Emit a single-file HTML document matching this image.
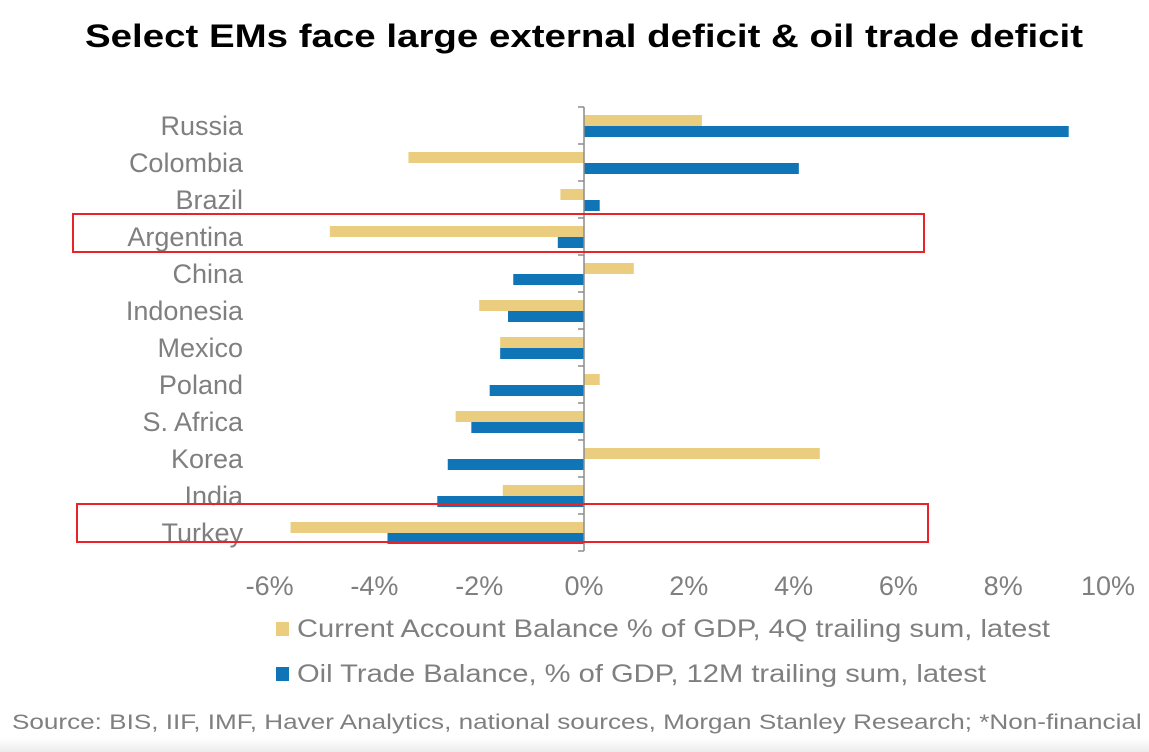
<!DOCTYPE html>
<html><head><meta charset="utf-8"><style>
html,body{margin:0;padding:0;background:#fff}
svg{display:block;font-family:"Liberation Sans",Arial,sans-serif}
</style></head><body>
<svg id="chart" width="1149" height="752" viewBox="0 0 1149 752">
<defs><linearGradient id="fade" x1="0" y1="0" x2="0" y2="1"><stop offset="0" stop-color="#fff"/><stop offset="1" stop-color="#ececec"/></linearGradient></defs>
<rect x="0" y="738" width="1149" height="14" fill="url(#fade)"/>
<text x="584" y="47" text-anchor="middle" font-size="32" font-weight="bold" fill="#000" textLength="998" lengthAdjust="spacingAndGlyphs">Select EMs face large external deficit &amp; oil trade deficit</text>
<g id="bars"></g>
<g id="axis"></g>
<rect x="73" y="214" width="851" height="38" fill="none" stroke="#e8242a" stroke-width="2"/>
<rect x="77" y="504" width="851" height="38" fill="none" stroke="#e8242a" stroke-width="2"/>
<g>
<rect x="276" y="622" width="13" height="14" fill="#ebcd7f"/>
<text x="297" y="637" font-size="25" fill="#7f7f7f" textLength="753" lengthAdjust="spacingAndGlyphs">Current Account Balance % of GDP, 4Q trailing sum, latest</text>
<rect x="276" y="667" width="13" height="14" fill="#0f75b6"/>
<text x="297" y="682" font-size="25" fill="#7f7f7f" textLength="689" lengthAdjust="spacingAndGlyphs">Oil Trade Balance, % of GDP, 12M trailing sum, latest</text>
</g>
<text x="12" y="729" font-size="21" fill="#7f7f7f" textLength="1150" lengthAdjust="spacingAndGlyphs">Source: BIS, IIF, IMF, Haver Analytics, national sources, Morgan Stanley Research; *Non-financial c</text>
</svg>
<script>
const categories = ["Russia","Colombia","Brazil","Argentina","China","Indonesia","Mexico","Poland","S. Africa","Korea","India","Turkey"];
const currentAccount = [2.25,-3.35,-0.45,-4.85,0.95,-2.0,-1.6,0.3,-2.45,4.5,-1.55,-5.6];
const oilTrade = [9.25,4.1,0.3,-0.5,-1.35,-1.45,-1.6,-1.8,-2.15,-2.6,-2.8,-3.75];
const tickValues = [-6,-4,-2,0,2,4,6,8,10];
const tickLabels = ["-6%","-4%","-2%","0%","2%","4%","6%","8%","10%"];

const NS = "http://www.w3.org/2000/svg";
const x0 = 584, pxPer = 52.4, yTop = 107, yBot = 551;
const band = (yBot - yTop) / categories.length;
const xs = v => x0 + v * pxPer;
const ys = i => yTop + i * band;
function mk(tag, attrs, parent) { const e = document.createElementNS(NS, tag); for (const k in attrs) e.setAttribute(k, attrs[k]); parent.appendChild(e); return e; }
const bars = document.getElementById('bars'), axis = document.getElementById('axis');

categories.forEach((c, i) => {
  const y = ys(i);
  const a = currentAccount[i], b = oilTrade[i];
  const r1 = mk('rect', {x: Math.min(xs(0), xs(a)), y: y + 8, width: Math.abs(xs(a) - xs(0)), height: 11, fill: '#ebcd7f'}, bars);
  
  
  const r2 = mk('rect', {x: Math.min(xs(0), xs(b)), y: y + 19, width: Math.abs(xs(b) - xs(0)), height: 11, fill: '#0f75b6'}, bars);
  
  
  const t = mk('text', {x: 243, y: y + 28, 'text-anchor': 'end', 'font-size': 27, fill: '#7f7f7f'}, axis);
  t.textContent = c;
  
  
});
for (let i = 0; i <= categories.length; i++) {
  const tk = mk('line', {x1: xs(0) - 6, x2: xs(0), y1: ys(i), y2: ys(i), stroke: '#8c8c8c', 'stroke-width': 1.5}, axis);
  
  
}
const ax = mk('line', {x1: xs(0), x2: xs(0), y1: yTop, y2: yBot, stroke: '#8c8c8c', 'stroke-width': 1.5}, axis);


tickValues.forEach((v, i) => {
  const t = mk('text', {x: xs(v), y: 595, 'text-anchor': 'middle', 'font-size': 27, fill: '#7f7f7f'}, axis);
  t.textContent = tickLabels[i];
  
  
});
</script>
</body></html>
